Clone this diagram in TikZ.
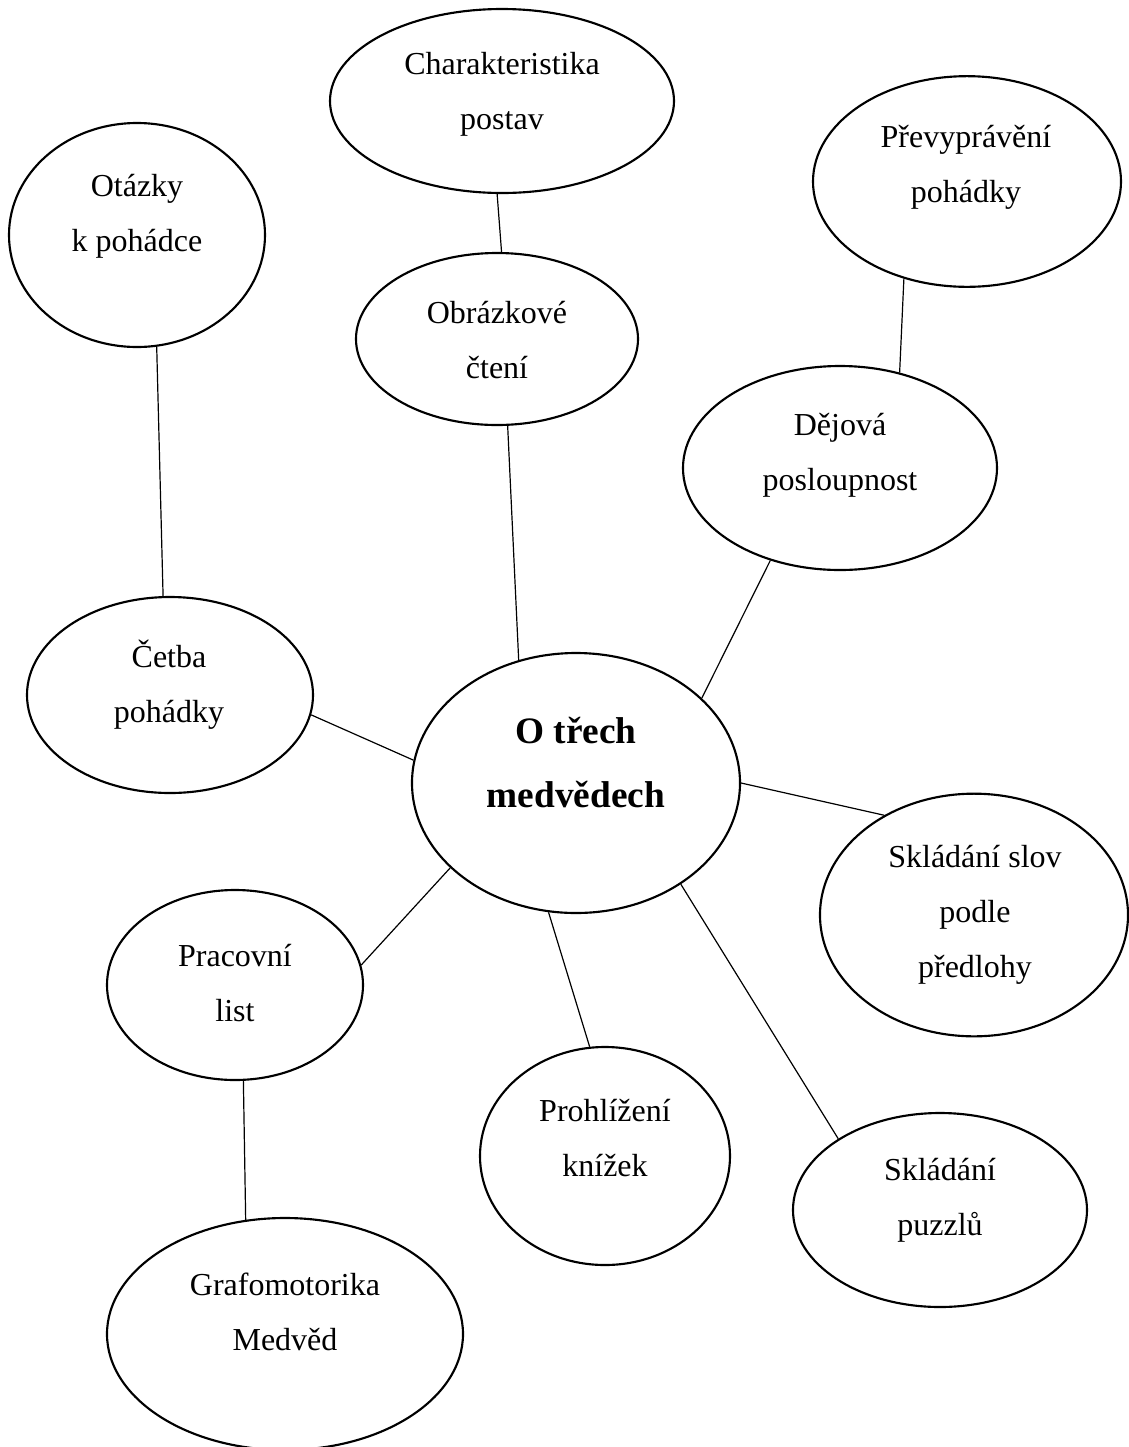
\documentclass[tikz,border=0pt]{standalone}
\usepackage{fontspec}
\setmainfont{Liberation Serif}
\usetikzlibrary{shapes.geometric}

\tikzset{
    bubble/.style={ellipse, draw, line width=0.8pt, inner sep=0pt},
    link/.style={line width=0.45pt},
    txt/.style={align=center, font=\fontsize{12}{20.6}\selectfont},
}

\begin{document}
\begin{tikzpicture}[x=0.375pt, y=-0.375pt]
    \useasboundingbox (0,0) rectangle (1129,1447);

    % ellipses
    \node[bubble, minimum width=129pt, minimum height=69pt] (charakteristika) at (502,101) {};
    \node[bubble, minimum width=96pt, minimum height=84pt] (otazky) at (137,235) {};
    \node[bubble, minimum width=115.5pt, minimum height=79pt] (prevypraveni) at (967,181.5) {};
    \node[bubble, minimum width=105.75pt, minimum height=64.5pt] (obrazkove) at (497,339) {};
    \node[bubble, minimum width=117.75pt, minimum height=76.5pt] (dejova) at (840,468) {};
    \node[bubble, minimum width=107.25pt, minimum height=73.5pt] (cetba) at (170,695) {};
    \node[bubble, minimum width=123pt, minimum height=97.5pt] (medvedi) at (576,783) {};
    \node[bubble, minimum width=115.5pt, minimum height=91pt] (slova) at (974,915) {};
    \node[bubble, minimum width=96pt, minimum height=71.25pt] (pracovni) at (235,985) {};
    \node[bubble, minimum width=93.75pt, minimum height=81.75pt] (prohlizeni) at (605,1156) {};
    \node[bubble, minimum width=110.25pt, minimum height=72.75pt] (puzzle) at (940,1210) {};
    \node[bubble, minimum width=133.5pt, minimum height=87pt] (grafomotorika) at (285,1334) {};

    % texts
    \node[txt] (charakteristika-t) at (502,94) {Charakteristika\\postav};
    \node[txt] (otazky-t) at (137,216) {Otázky\\k pohádce};
    \node[txt] (prevypraveni-t) at (966,167) {Převyprávění\\pohádky};
    \node[txt] (obrazkove-t) at (497,340) {Obrázkové\\čtení};
    \node[txt] (dejova-t) at (840,455) {Dějová\\posloupnost};
    \node[txt] (cetba-t) at (169,685) {Četba\\pohádky};
    \node[txt, font=\bfseries\fontsize{14}{24}\selectfont] (medvedi-t) at (576,763) {O třech\\medvědech};
    \node[txt] (slova-t) at (975,915) {Skládání slov\\podle\\předlohy};
    \node[txt] (pracovni-t) at (235,983) {Pracovní\\list};
    \node[txt] (prohlizeni-t) at (605,1138) {Prohlížení\\knížek};
    \node[txt] (puzzle-t) at (940,1200) {Skládání\\puzzlů};
    \node[txt] (grafomotorika-t) at (285,1312) {Grafomotorika\\Medvěd};

    % connectors
    \draw[link] (charakteristika.267.5) -- (obrazkove.87.3);
    \draw[link] (otazky.-80.7) -- (cetba.94.7);
    \draw[link] (prevypraveni.-123.4) -- (dejova.58.5);
    \draw[link] (obrazkove.-83.4) -- (medvedi.115.6);
    \draw[link] (dejova.-127.3) -- (medvedi.34.7);
    \draw[link] (cetba.-8) -- (medvedi.172.6);
    \draw[link] (medvedi.-0.7) -- (slova.132.2);
    \draw[link] (medvedi.-146.4) -- (pracovni.9.3);
    \draw[link] (medvedi.-102.3) -- (prohlizeni.98.4);
    \draw[link] (medvedi.-44.2) -- (puzzle.145.8);
    \draw[link] (pracovni.-85.2) -- (grafomotorika.109);
\end{tikzpicture}
\end{document}
